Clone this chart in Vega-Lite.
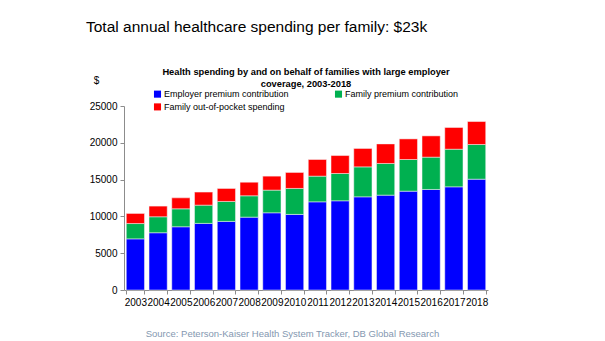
{
  "$schema": "https://vega.github.io/schema/vega-lite/v6.json",
  "autosize": {"type": "none"},
  "padding": {"left": 124, "top": 106, "right": 117, "bottom": 51},
  "width": 364,
  "height": 184,
  "background": "white",
  "config": {
    "font": "Liberation Sans",
    "view": {"stroke": null}
  },
  "title": {
    "text": "Total annual healthcare spending per family: $23k",
    "anchor": "start",
    "frame": "group",
    "dx": -38,
    "offset": 32,
    "fontSize": 15.5,
    "fontWeight": "normal",
    "color": "#000000",
    "font": "Liberation Sans"
  },
  "data": {
    "values": [
      {"year": "2003", "category": "Employer premium contribution", "k": 1, "value": 6950},
      {"year": "2003", "category": "Family premium contribution", "k": 2, "value": 2080},
      {"year": "2003", "category": "Family out-of-pocket spending", "k": 3, "value": 1370},
      {"year": "2004", "category": "Employer premium contribution", "k": 1, "value": 7780},
      {"year": "2004", "category": "Family premium contribution", "k": 2, "value": 2170},
      {"year": "2004", "category": "Family out-of-pocket spending", "k": 3, "value": 1450},
      {"year": "2005", "category": "Employer premium contribution", "k": 1, "value": 8590},
      {"year": "2005", "category": "Family premium contribution", "k": 2, "value": 2440},
      {"year": "2005", "category": "Family out-of-pocket spending", "k": 3, "value": 1490},
      {"year": "2006", "category": "Employer premium contribution", "k": 1, "value": 9050},
      {"year": "2006", "category": "Family premium contribution", "k": 2, "value": 2480},
      {"year": "2006", "category": "Family out-of-pocket spending", "k": 3, "value": 1770},
      {"year": "2007", "category": "Employer premium contribution", "k": 1, "value": 9320},
      {"year": "2007", "category": "Family premium contribution", "k": 2, "value": 2710},
      {"year": "2007", "category": "Family out-of-pocket spending", "k": 3, "value": 1770},
      {"year": "2008", "category": "Employer premium contribution", "k": 1, "value": 9900},
      {"year": "2008", "category": "Family premium contribution", "k": 2, "value": 2900},
      {"year": "2008", "category": "Family out-of-pocket spending", "k": 3, "value": 1850},
      {"year": "2009", "category": "Employer premium contribution", "k": 1, "value": 10490},
      {"year": "2009", "category": "Family premium contribution", "k": 2, "value": 3080},
      {"year": "2009", "category": "Family out-of-pocket spending", "k": 3, "value": 1900},
      {"year": "2010", "category": "Employer premium contribution", "k": 1, "value": 10270},
      {"year": "2010", "category": "Family premium contribution", "k": 2, "value": 3530},
      {"year": "2010", "category": "Family out-of-pocket spending", "k": 3, "value": 2170},
      {"year": "2011", "category": "Employer premium contribution", "k": 1, "value": 11980},
      {"year": "2011", "category": "Family premium contribution", "k": 2, "value": 3490},
      {"year": "2011", "category": "Family out-of-pocket spending", "k": 3, "value": 2260},
      {"year": "2012", "category": "Employer premium contribution", "k": 1, "value": 12120},
      {"year": "2012", "category": "Family premium contribution", "k": 2, "value": 3710},
      {"year": "2012", "category": "Family out-of-pocket spending", "k": 3, "value": 2440},
      {"year": "2013", "category": "Employer premium contribution", "k": 1, "value": 12660},
      {"year": "2013", "category": "Family premium contribution", "k": 2, "value": 4070},
      {"year": "2013", "category": "Family out-of-pocket spending", "k": 3, "value": 2500},
      {"year": "2014", "category": "Employer premium contribution", "k": 1, "value": 12890},
      {"year": "2014", "category": "Family premium contribution", "k": 2, "value": 4300},
      {"year": "2014", "category": "Family out-of-pocket spending", "k": 3, "value": 2660},
      {"year": "2015", "category": "Employer premium contribution", "k": 1, "value": 13430},
      {"year": "2015", "category": "Family premium contribution", "k": 2, "value": 4300},
      {"year": "2015", "category": "Family out-of-pocket spending", "k": 3, "value": 2800},
      {"year": "2016", "category": "Employer premium contribution", "k": 1, "value": 13660},
      {"year": "2016", "category": "Family premium contribution", "k": 2, "value": 4390},
      {"year": "2016", "category": "Family out-of-pocket spending", "k": 3, "value": 2890},
      {"year": "2017", "category": "Employer premium contribution", "k": 1, "value": 14020},
      {"year": "2017", "category": "Family premium contribution", "k": 2, "value": 5110},
      {"year": "2017", "category": "Family out-of-pocket spending", "k": 3, "value": 2950},
      {"year": "2018", "category": "Employer premium contribution", "k": 1, "value": 15060},
      {"year": "2018", "category": "Family premium contribution", "k": 2, "value": 4710},
      {"year": "2018", "category": "Family out-of-pocket spending", "k": 3, "value": 3120}
    ]
  },
  "mark": {"type": "bar", "stroke": "#f4f4f4", "strokeWidth": 0.5},
  "encoding": {
    "x": {
      "field": "year",
      "type": "ordinal",
      "scale": {"paddingInner": 0.2, "paddingOuter": 0.1},
      "axis": {
        "title": "Source: Peterson-Kaiser Health System Tracker, DB Global Research",
        "titleFontSize": 9.5,
        "titleFontWeight": "normal",
        "titleColor": "#8497B0",
        "titleX": 168,
        "titleY": 43,
        "titleAlign": "center",
        "titleBaseline": "middle",
        "labelAngle": 0,
        "labelFontSize": 10,
        "labelColor": "#000000",
        "labelPadding": 3,
        "tickBand": "extent",
        "tickSize": 4,
        "tickColor": "#8c8c8c",
        "domainColor": "#8c8c8c",
        "labelOverlap": false
      }
    },
    "y": {
      "field": "value",
      "type": "quantitative",
      "stack": "zero",
      "scale": {"domain": [0, 25000], "nice": false},
      "axis": {
        "values": [0, 5000, 10000, 15000, 20000, 25000],
        "format": "d",
        "grid": false,
        "title": "$",
        "titleAngle": 0,
        "titleX": -28,
        "titleY": -26,
        "titleAlign": "center",
        "titleBaseline": "middle",
        "titleFontSize": 10,
        "titleFontWeight": "normal",
        "titleColor": "#000000",
        "labelFontSize": 10,
        "labelColor": "#000000",
        "labelPadding": 3,
        "tickSize": 4,
        "tickColor": "#8c8c8c",
        "domainColor": "#8c8c8c"
      }
    },
    "color": {
      "field": "category",
      "type": "nominal",
      "scale": {
        "domain": ["Employer premium contribution", "Family premium contribution", "Family out-of-pocket spending"],
        "range": ["#0000FF", "#00B050", "#FF0000"]
      },
      "legend": {
        "title": ["Health spending by and on behalf of families with large employer", "coverage, 2003-2018"],
        "orient": "none",
        "legendX": 29,
        "legendY": -38.5,
        "direction": "horizontal",
        "columns": 2,
        "columnPadding": 45,
        "rowPadding": 3,
        "titleFontSize": 9.3,
        "titleFontWeight": "bold",
        "titleColor": "#000000",
        "titleAnchor": "middle",
        "titleAlign": "center",
        "titleLineHeight": 12.6,
        "titlePadding": 0,
        "titleLimit": 400,
        "labelFontSize": 9,
        "labelColor": "#000000",
        "labelLimit": 300,
        "labelOffset": 2,
        "symbolType": "square",
        "symbolSize": 50,
        "symbolStrokeWidth": 0
      }
    },
    "order": {"field": "k", "type": "quantitative"}
  }
}
